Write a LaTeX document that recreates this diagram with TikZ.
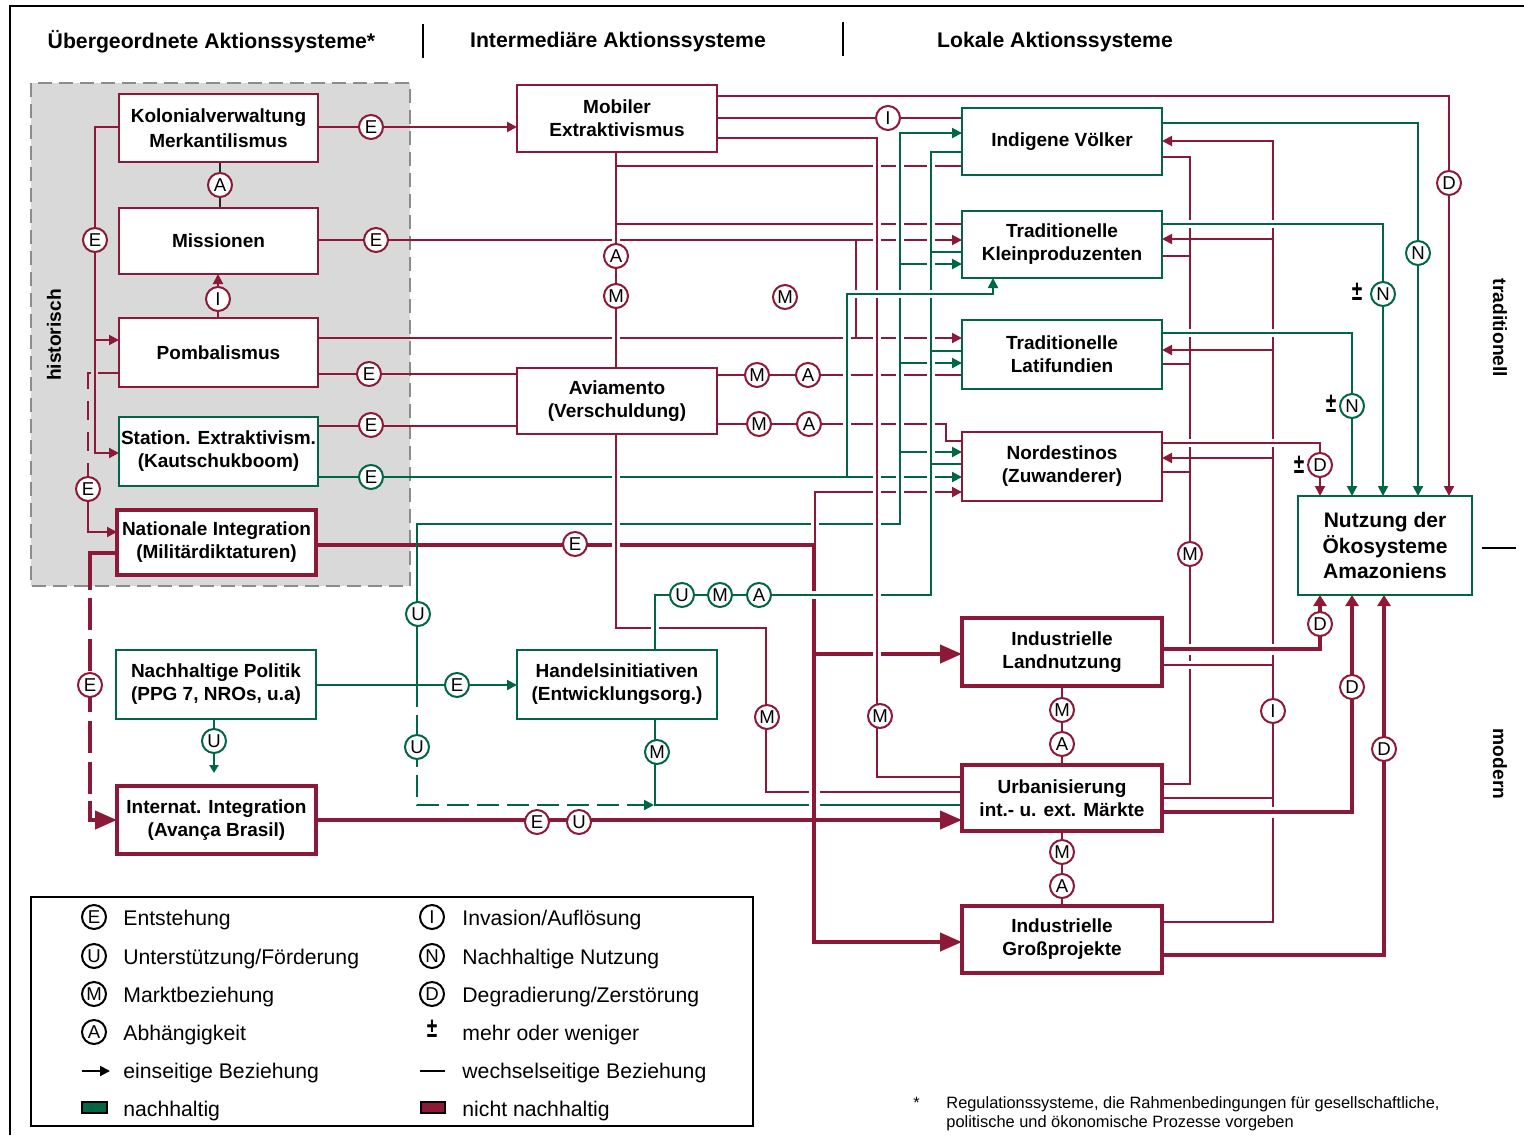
\documentclass[tikz,border=0pt]{standalone}
\usepackage{fontspec}
\setmainfont{Liberation Sans}
\usetikzlibrary{arrows.meta}
\definecolor{rd}{HTML}{8C1937}
\definecolor{gr}{HTML}{006644}
\definecolor{histfill}{HTML}{D9D9D9}
\pgfdeclarelayer{front}
\pgfsetlayers{main,front}
\newcommand{\plusminus}{\scalebox{0.68}[1]{±}}
\begin{document}
\begin{tikzpicture}[x=0.5pt,y=-0.5pt,
  rl/.style={draw=rd,line width=1pt,line cap=rect},
  gl/.style={draw=gr,line width=1pt,line cap=rect},
  tl/.style={draw=rd,line width=2pt,line cap=rect},
  hal/.style={preaction={draw=white,-,line cap=butt,line width=4pt,shorten <=3pt,shorten >=3pt}},
  thal/.style={preaction={draw=white,-,line cap=butt,line width=5.5pt,shorten <=4pt,shorten >=4pt}},
  ar/.style={-{Triangle[length=5pt,width=5pt]}},
  sar/.style={-{Triangle[length=5.5pt,width=6.5pt]}},
  bar/.style={-{Triangle[length=11pt,width=9pt]}},
  box/.style={draw=rd,line width=1pt,fill=white,inner sep=0pt,outer sep=0pt,align=center,
    minimum width=100pt,font=\bfseries\fontsize{9.5}{11.5}\selectfont},
  gbox/.style={box,draw=gr},
  tbox/.style={box,line width=2.2pt},
  cr/.style={circle,draw=rd,line width=1pt,fill=white,inner sep=0pt,minimum size=12pt,
    font=\fontsize{9.3}{10}\selectfont},
  cg/.style={cr,draw=gr},
  ck/.style={cr,draw=black},
  pmark/.style={inner sep=0pt,font=\bfseries\fontsize{14}{14}\selectfont},
  head/.style={inner sep=0pt,font=\bfseries\fontsize{10.6}{12}\selectfont},
  side/.style={inner sep=0pt,font=\bfseries\fontsize{9.6}{11}\selectfont},
  leg/.style={anchor=base west,inner sep=0pt,font=\fontsize{10.6}{12}\selectfont},
  foot/.style={anchor=base west,inner sep=0pt,font=\fontsize{8.2}{9.5}\selectfont},
]
\useasboundingbox (0,0) rectangle (1524,1135);
\fill[white] (0,0) rectangle (1524,1135);

% frame and column headings
\draw[line width=1pt] (10,1135) -- (10,6) -- (1524,6);
\draw[line width=1pt] (423,24) -- (423,58);
\draw[line width=1pt] (843,22) -- (843,56);
\node[head] (h1) at (211.5,42) {Übergeordnete Aktionssysteme*};
\node[head] (h2) at (618,42) {Intermediäre Aktionssysteme};
\node[head] (h3) at (1055,42) {Lokale Aktionssysteme};

% historical field
\filldraw[fill=histfill,draw=black!45,line width=0.8pt,dash pattern=on 7pt off 3.5pt] (31,83) rectangle (410,586);
\node[side,rotate=90] (hist) at (54,335) {historisch};
\node[side,rotate=-90] (trad) at (1500,328) {traditionell};
\node[side,rotate=-90] (mod) at (1500,764) {modern};

% ---------------- boxes ----------------
\begin{pgfonlayer}{front}
\node[box,minimum width=99.5pt,minimum height=34pt,font=\bfseries\fontsize{9.5}{12.5}\selectfont] (kol) at (218.5,128) {Kolonialverwaltung\\Merkantilismus};
\node[box,minimum width=99.5pt,minimum height=33pt] (mis) at (218.5,241) {Missionen};
\node[box,minimum width=99.5pt,minimum height=34.5pt] (pom) at (218.5,352.5) {Pombalismus};
\node[gbox,minimum width=99.5pt,minimum height=34.5pt] (sta) at (218.5,451.5) {Station. Extraktivism.\\(Kautschukboom)};
\node[tbox,minimum width=99.5pt,minimum height=32.5pt] (nat) at (216.5,542.5) {Nationale Integration\\(Militärdiktaturen)};
\node[gbox,minimum width=100pt,minimum height=34.5pt] (nac) at (216,684.5) {Nachhaltige Politik\\(PPG 7, NROs, u.a)};
\node[tbox,minimum width=99.5pt,minimum height=34pt] (int) at (216.5,820) {Internat. Integration\\(Avança Brasil)};
\node[box,minimum height=33.5pt] (mob) at (617,118.5) {Mobiler\\Extraktivismus};
\node[box,minimum height=33pt] (avi) at (617,401) {Aviamento\\(Verschuldung)};
\node[gbox,minimum height=34.5pt] (han) at (617,684.5) {Handelsinitiativen\\(Entwicklungsorg.)};
\node[gbox,minimum height=33.5pt] (ind) at (1062,141.5) {Indigene Völker};
\node[gbox,minimum height=33.5pt] (kle) at (1062,244.5) {Traditionelle\\Kleinproduzenten};
\node[gbox,minimum height=34.5pt] (lat) at (1062,354.5) {Traditionelle\\Latifundien};
\node[box,minimum height=34.5pt] (nor) at (1062,466.5) {Nordestinos\\(Zuwanderer)};
\node[tbox,minimum height=34pt] (ila) at (1062,652) {Industrielle\\Landnutzung};
\node[tbox,minimum height=33pt] (urb) at (1062,798) {Urbanisierung\\int.- u. ext. Märkte};
\node[tbox,minimum height=33.5pt] (igp) at (1062,939.5) {Industrielle\\Großprojekte};
\node[gbox,minimum width=87pt,minimum height=49.5pt,font=\bfseries\fontsize{10.5}{12.75}\selectfont] (nut) at (1385,545.5) {Nutzung der\\Ökosysteme\\Amazoniens};
\end{pgfonlayer}

% ---------------- connectors: lower level ----------------
\draw[rl,ar] (kol.east|-0,127) -- (mob.west|-0,127);
\draw[draw=black!85,line width=1pt] (kol.south-|220,0) -- (mis.north-|220,0);
\draw[rl,ar] (pom.north-|218,0) -- (mis.south-|218,0);
\draw[rl,ar] (kol.west|-0,127) -- (95,127) -- (95,453) -- (sta.west|-0,453);
\draw[rl,ar] (95,340) -- (pom.west|-0,340);
\draw[rl] (pom.west|-0,373) -- (99,373);
\draw[rl,line cap=butt,dash pattern=on 9.5pt off 6pt] (91,373) -- (88,373) -- (88,476);
\draw[rl,ar] (88,502) -- (88,532) -- (nat.west|-0,532);
\draw[rl,ar] (mis.east|-0,240) -- (kle.west|-0,240);
\draw[rl,ar] (pom.east|-0,338) -- (lat.west|-0,338);
\draw[rl] (pom.east|-0,374) -- (avi.west|-0,374);
\draw[rl] (sta.east|-0,426) -- (avi.west|-0,426);
\draw[gl,ar] (sta.east|-0,477) -- (nor.west|-0,477);
\draw[tl] (nat.east|-0,545) -- (814,545);
\draw[tl] (nat.west|-0,553) -- (90,553) -- (90,588);
\draw[tl,line cap=butt,dash pattern=on 16pt off 4.5pt] (90,598) -- (90,794);
\draw[tl,bar] (90,803) -- (90,820) -- (int.west|-0,820);
\draw[gl,ar] (nac.east|-0,685) -- (han.west|-0,685);
\draw[gl] (417,685) -- (417,524) -- (900,524);
\draw[gl,ar,line cap=butt,dash pattern=on 11pt off 4pt] (417,685) -- (417,805) -- (654,805);
\draw[gl,-{Triangle[length=4pt,width=4.5pt]}] (nac.south-|214,0) -- (214,773);
\draw[gl] (han.south-|655,0) -- (655,805) -- (urb.west|-0,805);
\draw[rl,ar] (mob.east|-0,96) -- (1449,96) -- (nut.north-|1449,0);
\draw[rl] (mob.east|-0,118) -- (ind.west|-0,118);
\draw[rl] (avi.east|-0,375) -- (lat.west|-0,375);
\draw[rl] (avi.east|-0,424) -- (946,424) -- (946,441) -- (nor.west|-0,441);
\draw[rl,ar] (815,492) -- (nor.west|-0,492);

% ---------------- connectors: crossing over ----------------
\draw[rl,hal] (avi.south-|616,0) -- (616,628) -- (766,628) -- (766,792) -- (urb.west|-0,792);
\draw[rl,hal] (mob.south-|616,0) -- (avi.north-|616,0);
\draw[rl] (616,166) -- (ind.west|-0,166);
\draw[rl] (616,224) -- (kle.west|-0,224);
\draw[rl,hal] (815,545) -- (815,492);
\draw[gl,ar,hal] (900,524) -- (900,133) -- (ind.west|-0,133);
\draw[gl,ar] (900,264) -- (kle.west|-0,264);
\draw[gl,ar] (900,363) -- (lat.west|-0,363);
\draw[gl,ar] (900,452) -- (nor.west|-0,452);
\draw[rl] (856,240) -- (856,338);
\draw[tl,bar,thal] (814,545) -- (814,942) -- (igp.west|-0,942);
\draw[tl,bar] (814,654) -- (ila.west|-0,654);
\draw[tl,bar] (int.east|-0,820) -- (urb.west|-0,820);
\draw[gl,hal] (han.north-|655,0) -- (655,595) -- (931,595) -- (931,152) -- (ind.west|-0,152);
\draw[gl] (931,252) -- (kle.west|-0,252);
\draw[gl] (931,351) -- (lat.west|-0,351);
\draw[gl] (931,464) -- (nor.west|-0,464);
\draw[rl,hal] (mob.east|-0,138) -- (877,138) -- (877,777) -- (urb.west|-0,777);
\draw[gl,ar,hal] (847,477) -- (847,294) -- (993,294) -- (kle.south-|993,0);

% ---------------- connectors: local systems ----------------
\draw[rl] (ind.east|-0,157) -- (1190,157) -- (1190,784) -- (urb.east|-0,784);
\draw[rl] (kle.east|-0,256) -- (1190,256);
\draw[rl] (lat.east|-0,364) -- (1190,364);
\draw[rl] (nor.east|-0,472) -- (1190,472);
\draw[rl,ar] (igp.east|-0,922) -- (1273,922) -- (1273,141) -- (ind.east|-0,141);
\draw[rl,ar] (1273,239) -- (kle.east|-0,239);
\draw[rl,ar] (1273,350) -- (lat.east|-0,350);
\draw[rl,ar] (1273,458) -- (nor.east|-0,458);
\draw[rl] (urb.east|-0,798) -- (1273,798);
\draw[gl,ar] (ind.east|-0,123) -- (1418,123) -- (nut.north-|1418,0);
\draw[gl,ar,hal] (kle.east|-0,224) -- (1383,224) -- (nut.north-|1383,0);
\draw[gl,ar,hal] (lat.east|-0,333) -- (1352,333) -- (nut.north-|1352,0);
\draw[rl,ar,hal] (nor.east|-0,443) -- (1320,443) -- (nut.north-|1320,0);
\draw[rl,hal] (ila.east|-0,665) -- (1273,665);
\draw[tl,sar,thal] (ila.east|-0,649) -- (1320,649) -- (nut.south-|1320,0);
\draw[tl,sar,thal] (urb.east|-0,812) -- (1352,812) -- (nut.south-|1352,0);
\draw[tl,sar] (igp.east|-0,955) -- (1384,955) -- (nut.south-|1384,0);
\draw[rl] (ila.south-|1062,0) -- (urb.north-|1062,0);
\draw[rl] (urb.south-|1062,0) -- (igp.north-|1062,0);
\draw[line width=1pt] (1482,548) -- (1516,548);

% ---------------- relation marks ----------------
\begin{pgfonlayer}{front}
\node[cr] (c01) at (371,127) {E};
\node[cr] (c02) at (220,185) {A};
\node[cr] (c03) at (95,240) {E};
\node[cr] (c04) at (376,240) {E};
\node[cr] (c05) at (218,299) {I};
\node[cr] (c06) at (616,256) {A};
\node[cr] (c07) at (616,296) {M};
\node[cr] (c08) at (785,297) {M};
\node[cr] (c09) at (369,374) {E};
\node[cr] (c10) at (371,425) {E};
\node[cg] (c11) at (371,477) {E};
\node[cr] (c12) at (88,489) {E};
\node[cr] (c13) at (575,544) {E};
\node[cg] (c14) at (682,595) {U};
\node[cg] (c15) at (720,595) {M};
\node[cg] (c16) at (759,595) {A};
\node[cg] (c17) at (418,614) {U};
\node[cr] (c18) at (90,685) {E};
\node[cg] (c19) at (457,685) {E};
\node[cg] (c20) at (214,741) {U};
\node[cg] (c21) at (417,747) {U};
\node[cg] (c22) at (657,752) {M};
\node[cr] (c23) at (767,717) {M};
\node[cr] (c24) at (880,716) {M};
\node[cr] (c25) at (537,822) {E};
\node[cr] (c26) at (579,822) {U};
\node[cr] (c27) at (757,375) {M};
\node[cr] (c28) at (808,375) {A};
\node[cr] (c29) at (759,424) {M};
\node[cr] (c30) at (809,424) {A};
\node[cr] (c31) at (888,118) {I};
\node[cr] (c32) at (1449,183) {D};
\node[cg] (c33) at (1418,253) {N};
\node[cg] (c34) at (1383,294) {N};
\node[cg] (c35) at (1352,406) {N};
\node[cr] (c36) at (1320,465) {D};
\node[cr] (c37) at (1190,554) {M};
\node[cr] (c38) at (1320,624) {D};
\node[cr] (c39) at (1352,687) {D};
\node[cr] (c40) at (1273,711) {I};
\node[cr] (c41) at (1384,749) {D};
\node[cr] (c42) at (1062,710) {M};
\node[cr] (c43) at (1062,744) {A};
\node[cr] (c44) at (1062,852) {M};
\node[cr] (c45) at (1062,886) {A};
\node[pmark] (p1) at (1357,292) {\plusminus};
\node[pmark] (p2) at (1331,404) {\plusminus};
\node[pmark] (p3) at (1299,465) {\plusminus};
\end{pgfonlayer}

% ---------------- legend ----------------
\draw[line width=1pt] (31,897) rectangle (753,1126);
\node[ck] (k1) at (94,917) {E};
\node[ck] (k2) at (94,956) {U};
\node[ck] (k3) at (94,994) {M};
\node[ck] (k4) at (94,1032) {A};
\draw[line width=1pt,-{Triangle[length=5pt,width=5pt]}] (82,1071) -- (110,1071);
\filldraw[fill=gr,draw=black,line width=0.8pt] (82,1102) rectangle (107,1113);
\node[leg] (t1) at (123,925) {Entstehung};
\node[leg] (t2) at (123,964) {Unterstützung/Förderung};
\node[leg] (t3) at (123,1002) {Marktbeziehung};
\node[leg] (t4) at (123,1040) {Abhängigkeit};
\node[leg] (t5) at (123,1078) {einseitige Beziehung};
\node[leg] (t6) at (123,1116) {nachhaltig};
\node[ck] (k5) at (432,917) {I};
\node[ck] (k6) at (432,956) {N};
\node[ck] (k7) at (432,994) {D};
\node[pmark] (k8) at (432,1029) {\plusminus};
\draw[line width=1pt] (420,1071) -- (445,1071);
\filldraw[fill=rd,draw=black,line width=0.8pt] (421,1102) rectangle (445,1113);
\node[leg] (t7) at (462,925) {Invasion/Auflösung};
\node[leg] (t8) at (462,964) {Nachhaltige Nutzung};
\node[leg] (t9) at (462,1002) {Degradierung/Zerstörung};
\node[leg] (t10) at (462,1040) {mehr oder weniger};
\node[leg] (t11) at (462,1078) {wechselseitige Beziehung};
\node[leg] (t12) at (462,1116) {nicht nachhaltig};

% ---------------- footnote ----------------
\node[foot] (fs) at (913,1108) {*};
\node[foot] (f1) at (946,1108) {Regulationssysteme, die Rahmenbedingungen für gesellschaftliche,};
\node[foot] (f2) at (946,1127) {politische und ökonomische Prozesse vorgeben};
\end{tikzpicture}
\end{document}
